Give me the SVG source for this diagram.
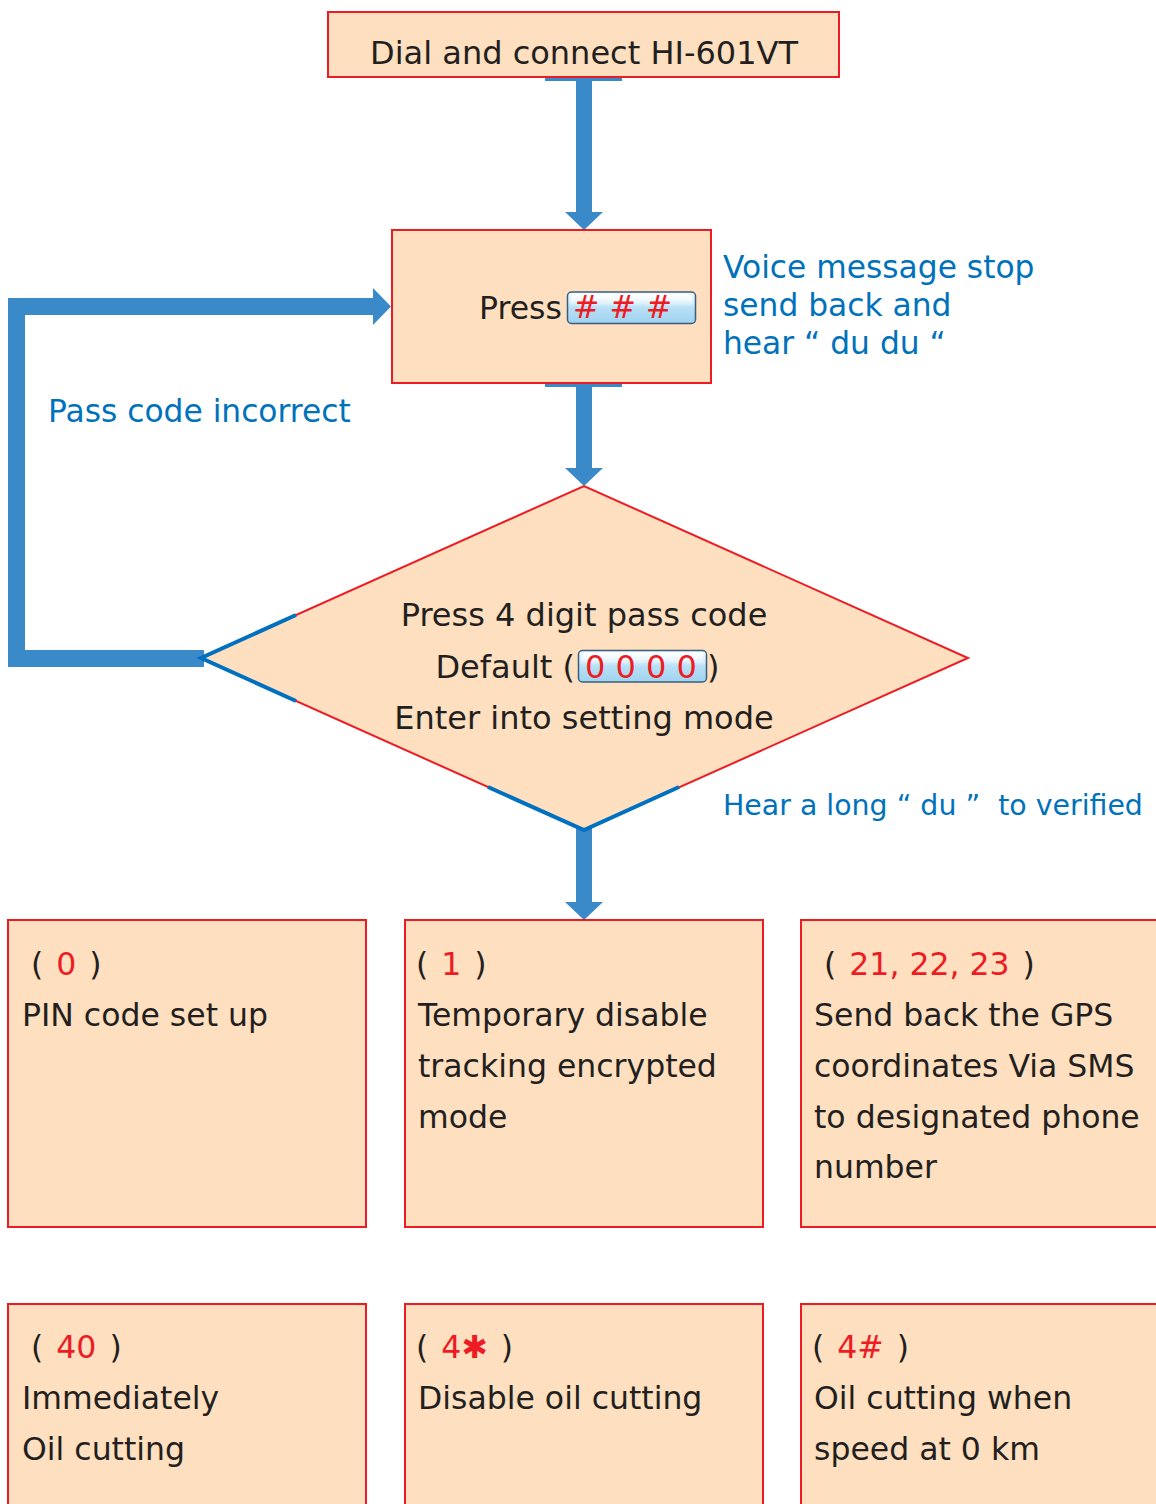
<svg xmlns="http://www.w3.org/2000/svg" width="1156" height="1504" viewBox="0 0 1156 1504">
  <defs>
    <linearGradient id="keyGrad" x1="0" y1="0" x2="0" y2="1">
      <stop offset="0" stop-color="#f4fbff"/>
      <stop offset="0.35" stop-color="#d6eefb"/>
      <stop offset="0.5" stop-color="#b8e0f6"/>
      <stop offset="1" stop-color="#9fd3f0"/>
    </linearGradient>
    <linearGradient id="keyShine" x1="0" y1="0" x2="0" y2="1">
      <stop offset="0" stop-color="#ffffff" stop-opacity="0.9"/>
      <stop offset="1" stop-color="#ffffff" stop-opacity="0.1"/>
    </linearGradient>
  </defs>
  <style>
    .box { fill: #fedfbf; stroke: #ed1c24; stroke-width: 2; }
    .txt { font-family: "DejaVu Sans", Verdana, sans-serif; font-size: 31.5px; fill: #231f20; white-space: pre; }
    .big { font-size: 32px; }
    .red { fill: #ed1c24; }
    .note { font-family: "DejaVu Sans", Verdana, sans-serif; font-size: 31.3px; fill: #0072bc; white-space: pre; }
    .small { font-size: 28.4px; }
    .arrow { fill: #3a8aca; }
    .key { fill: url(#keyGrad); stroke: #3b5e7e; stroke-width: 1.5; }
    .edge { fill: none; stroke: #0070c0; stroke-width: 4; stroke-linejoin: miter; }
  </style>

  <rect width="1156" height="1504" fill="#ffffff"/>

  <!-- connectors -->
  <g id="connectors">
    <!-- start box to press box -->
    <rect class="arrow" x="545" y="77" width="77" height="4"/>
    <rect class="arrow" x="576" y="80" width="16" height="133"/>
    <polygon class="arrow" points="565,212 603,212 584,230"/>
    <!-- press box to decision -->
    <rect class="arrow" x="545" y="383" width="77" height="4"/>
    <rect class="arrow" x="576" y="386" width="16" height="83"/>
    <polygon class="arrow" points="565,468 603,468 584,486"/>
    <!-- decision to menu -->
    <rect class="arrow" x="576" y="826" width="16" height="77"/>
    <polygon class="arrow" points="565,902 603,902 584,920"/>
    <!-- retry loop back to press box -->
    <polygon class="arrow" points="8,298 373,298 373,288 391,306.5 373,325 373,315 25,315 25,650 204,650 204,667 8,667"/>
  </g>

  <!-- start -->
  <g id="node-dial">
    <rect class="box" x="328" y="12" width="511" height="65"/>
    <text class="txt big" x="584" y="64" text-anchor="middle">Dial and connect HI-601VT</text>
  </g>

  <!-- press ### -->
  <g id="node-press">
    <rect class="box" x="392" y="230" width="319" height="153"/>
    <text class="txt" x="479" y="319">Press</text>
    <rect class="key" x="567.5" y="292" width="128" height="31.5" rx="4"/>
    <rect x="571" y="294" width="121" height="11" rx="3" fill="url(#keyShine)"/>
    <text class="txt red" x="573" y="318"># # #</text>
  </g>

  <g id="note-voice">
    <text class="note" x="723" y="278">Voice message stop</text>
    <text class="note" x="723" y="316">send back and</text>
    <text class="note" x="723" y="354">hear “ du du “</text>
  </g>

  <g id="note-incorrect">
    <text class="note" x="48" y="422">Pass code incorrect</text>
  </g>

  <!-- decision -->
  <g id="node-passcode">
    <polygon class="box" points="200,658 584,486 968,658 584,830"/>
    <polyline class="edge" points="296,615 201,658 296,701"/>
    <polyline class="edge" points="488,787 584,830 679,787"/>
    <text class="txt big" x="584" y="626" text-anchor="middle">Press 4 digit pass code</text>
    <text class="txt big" x="575" y="678" text-anchor="end">Default (</text>
    <rect class="key" x="578.5" y="650.5" width="128" height="31.5" rx="4"/>
    <rect x="582" y="652.5" width="121" height="11" rx="3" fill="url(#keyShine)"/>
    <text class="txt big red" x="585" y="678">0 0 0 0</text>
    <text class="txt big" x="707" y="678">)</text>
    <text class="txt big" x="584" y="729" text-anchor="middle">Enter into setting mode</text>
  </g>

  <g id="note-verified">
    <text class="note small" x="723" y="815">Hear a long “ du ”  to verified</text>
  </g>

  <!-- menu options -->
  <g id="node-opt0">
    <rect class="box" x="8" y="920" width="358" height="307"/>
    <text class="txt" x="31" y="975">(<tspan class="red" dx="13">0</tspan><tspan dx="13">)</tspan></text>
    <text class="txt" x="22" y="1026">PIN code set up</text>
  </g>

  <g id="node-opt1">
    <rect class="box" x="405" y="920" width="358" height="307"/>
    <text class="txt" x="416" y="975">(<tspan class="red" dx="13">1</tspan><tspan dx="13">)</tspan></text>
    <text class="txt" x="418" y="1026">Temporary disable</text>
    <text class="txt" x="418" y="1077">tracking encrypted</text>
    <text class="txt" x="418" y="1128">mode</text>
  </g>

  <g id="node-opt2x">
    <rect class="box" x="801" y="920" width="362" height="307"/>
    <text class="txt" x="824" y="975">(<tspan class="red" dx="13">21, 22, 23</tspan><tspan dx="13">)</tspan></text>
    <text class="txt" x="814" y="1026">Send back the GPS</text>
    <text class="txt" x="814" y="1077">coordinates Via SMS</text>
    <text class="txt" x="814" y="1128">to designated phone</text>
    <text class="txt" x="814" y="1178">number</text>
  </g>

  <g id="node-opt40">
    <rect class="box" x="8" y="1304" width="358" height="210"/>
    <text class="txt" x="31" y="1358">(<tspan class="red" dx="13">40</tspan><tspan dx="13">)</tspan></text>
    <text class="txt" x="22" y="1409">Immediately</text>
    <text class="txt" x="22" y="1460">Oil cutting</text>
  </g>

  <g id="node-opt4star">
    <rect class="box" x="405" y="1304" width="358" height="210"/>
    <text class="txt" x="416" y="1358">(<tspan class="red" dx="13">4✱</tspan><tspan dx="13">)</tspan></text>
    <text class="txt" x="418" y="1409">Disable oil cutting</text>
  </g>

  <g id="node-opt4hash">
    <rect class="box" x="801" y="1304" width="362" height="210"/>
    <text class="txt" x="812" y="1358">(<tspan class="red" dx="13">4#</tspan><tspan dx="13">)</tspan></text>
    <text class="txt" x="814" y="1409">Oil cutting when</text>
    <text class="txt" x="814" y="1460">speed at 0 km</text>
  </g>
</svg>
